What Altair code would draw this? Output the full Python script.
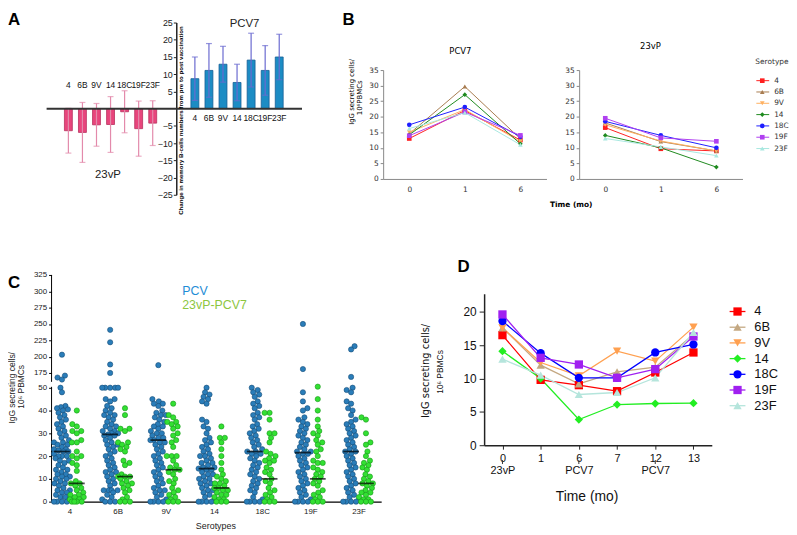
import math
import json
import altair as alt
import pandas as pd

FONT = "Liberation Sans"
BFONT = "DejaVu Sans"

serotypes = ["4", "6B", "9V", "14", "18C", "19F", "23F"]

# ---------------- Panel A : change in memory B cells ----------------
a_23vp_mean = [-6.4, -6.9, -4.7, -4.6, -0.9, -5.8, -4.2]
a_23vp_err = [6.5, 8.7, 6.2, 8.1, 6.1, 8.0, 6.5]
a_pcv7_mean = [8.7, 11.1, 12.9, 7.6, 14.1, 11.1, 15.0]
a_pcv7_err = [6.3, 7.8, 5.2, 5.3, 7.8, 7.2, 6.6]

# ---------------- Panel B : IgG secreting cells ----------------
b_times = ["0", "1", "6"]
b_pcv7 = {
    "4": [13.0, 22.0, 12.5],
    "6B": [14.5, 29.7, 12.9],
    "9V": [15.0, 22.3, 12.0],
    "14": [14.2, 27.1, 11.3],
    "18C": [17.4, 23.1, 13.6],
    "19F": [13.9, 21.5, 14.0],
    "23F": [16.2, 21.3, 11.0],
}
b_23vp = {
    "4": [16.5, 9.7, 9.0],
    "6B": [18.0, 12.0, 9.0],
    "9V": [17.4, 12.2, 9.0],
    "14": [14.0, 10.0, 3.8],
    "18C": [18.5, 14.0, 10.0],
    "19F": [19.5, 13.2, 12.1],
    "23F": [13.0, 10.3, 7.5],
}
b_colors = ["#FF2020", "#A87C50", "#FFB060", "#1E8A1E", "#1E1EFF", "#B040F0", "#A8E8E0"]

# ---------------- Panel C : individual responses ----------------
c_pcv = {
    "4": [203, 171, 168, 165, 50, 48, 42, 41.5, 41, 40.5, 40, 39, 38, 37, 36, 35, 34, 33, 32, 31, 30, 29,
          28, 27, 26, 26, 25, 25, 24, 23, 23, 22.5, 22, 22, 21, 20, 20, 20, 19, 18, 18, 17, 16, 15, 14, 14,
          13, 12, 12, 11, 11, 10, 10, 9, 8, 8, 7, 6, 5, 5, 4, 4, 3, 2, 2, 1, 0, 0, 0, 0],
    "6B": [241, 222, 188, 175, 50, 50, 50, 50, 50, 45, 45, 44, 42, 41, 40, 39, 38, 38, 37, 36, 35, 34, 33,
           33, 32, 31, 31, 30, 30, 29.5, 29, 29, 28, 27, 26, 25, 25, 24, 23, 22, 21, 20, 19, 18, 17, 16, 15,
           14, 13, 13, 12, 11, 10, 9, 8, 7, 5, 5, 5, 5, 4, 3, 2, 1, 0, 0, 0],
    "9V": [187, 45, 44, 43, 43, 42, 40, 39, 38, 38, 37, 36, 35, 34, 33, 33, 32, 31, 30, 30, 29, 28, 28, 27,
           27, 26, 26, 25, 24, 23, 22, 21, 20, 19, 18, 17, 16, 15, 14, 13, 12, 11, 10, 9, 8, 7, 6, 5, 5, 4,
           3, 2, 1, 0, 0, 0, 0],
    "14": [50, 48, 47, 46, 45, 44, 43, 36, 35, 33, 32, 30, 28, 27, 26, 25, 24, 23, 22, 21, 20, 20, 19, 18,
           17, 17, 16, 15, 15, 14.5, 14, 14, 13, 12, 12, 11, 10, 10, 9, 8, 8, 7, 6, 5, 5, 4, 3, 2, 1, 0, 0,
           0, 0],
    "18C": [50, 49, 48, 47, 46, 44, 43, 42, 41, 39, 38, 37, 36, 34, 33, 32, 31, 30, 29, 28, 27, 26, 25, 24,
            23, 22, 22, 21, 21, 20, 19, 18, 17, 16, 15, 14, 13, 12, 11, 10, 9, 8, 7, 6, 5, 4, 2, 1, 0, 0, 0,
            0],
    "19F": [250, 181, 48, 44, 41, 40, 37, 36, 35, 34, 33, 32, 31, 30, 29, 28, 27, 26, 25, 24, 23, 22, 22,
            21, 21, 20, 19, 18, 17, 16, 15, 14, 13, 12, 11, 10, 9, 8, 7, 6, 5, 4, 3, 2, 1, 0, 0, 0, 0],
    "23F": [216, 211, 169, 50, 49, 48, 44, 43, 41, 40, 38, 36, 35, 34, 33, 32, 31, 30, 29, 28, 27, 26, 25,
            24, 23, 22, 22, 21, 20, 19, 18, 17, 16, 15, 14, 13, 12, 11, 10, 9, 8, 7, 6, 5, 4, 3, 2, 1, 0, 0,
            0, 0],
}
c_23vp_pcv7 = {
    "4": [40, 34, 33, 31, 31, 30, 27, 26, 26, 22, 20, 20, 19, 17, 16, 13.5, 9, 8, 8, 7, 6, 5, 4, 3, 3, 2,
          2, 1, 1, 0, 0, 0, 0],
    "6B": [41, 38, 32, 32, 31, 26, 26, 25, 24, 23, 22, 18, 17, 16, 12, 11, 11, 11, 10, 9, 8, 8, 7, 6, 5,
           4, 2, 1, 0, 0, 0],
    "9V": [43, 38, 37, 35, 35, 34, 33, 32, 30, 29, 27, 26, 24, 20, 20, 20, 18, 16, 15, 14, 14, 13, 12, 10,
           9, 8, 6, 5, 4, 3, 2, 1, 0, 0, 0],
    "14": [33, 28, 28, 26, 23, 20, 17, 14, 12, 11, 10, 9, 8, 8, 7, 6, 6, 5, 5, 4, 3, 3, 2, 1, 1, 0, 0, 0],
    "18C": [39, 39, 36, 30, 30, 28, 26, 22, 21, 20, 19, 18, 18, 17, 15, 14, 13, 12, 10, 9, 8, 6, 5, 4, 3,
            2, 1, 0, 0, 0],
    "19F": [54, 45, 40, 36, 33, 31, 30, 29, 27, 26, 25, 23, 22, 20, 18, 17, 17, 15, 14, 13, 12, 11, 10, 9,
            8, 7, 5, 4, 3, 2, 1, 0, 0, 0],
    "23F": [37, 36, 30, 26, 25, 22, 20, 18, 17, 16, 15, 14, 12, 11, 10, 9, 8, 8, 7, 6, 5, 4, 4, 3, 2, 1, 1,
            0, 0, 0],
}
c_median_pcv = [22, 29.5, 27, 14.5, 22, 21.5, 22]
c_median_23vp_pcv7 = [8, 11, 14, 6, 10, 10, 8]

# ---------------- Panel D : time course ----------------
d_times = ["0", "1", "6", "7", "12", "13"]
d_values = {
    "4": [16.5, 9.8, 9.0, 8.1, 10.9, 13.9],
    "6B": [17.6, 12.0, 9.2, 11.0, 11.7, 16.6],
    "9V": [17.6, 12.4, 10.4, 14.1, 12.6, 17.7],
    "14": [14.1, 10.0, 3.85, 6.1, 6.25, 6.3],
    "18C": [18.6, 13.8, 10.1, 10.1, 13.9, 15.1],
    "19F": [19.6, 13.1, 12.1, 10.1, 11.4, 16.3],
    "23F": [12.9, 10.5, 7.6, 7.9, 10.1, 16.9],
}
d_colors = ["#FF0000", "#C4A882", "#FFA050", "#22EE22", "#0000FF", "#A020F0", "#B5E5DC"]
d_shapes = ["square", "triangle-up", "triangle-down", "diamond", "circle", "square", "triangle-up"]


def note(text, x, y, size, color="black", weight="normal", font=FONT, align="center",
         baseline="middle", angle=0):
    return alt.Chart(pd.DataFrame({"t": [text]})).mark_text(
        fontSize=size, color=color, fontWeight=weight, font=font, align=align,
        baseline=baseline, angle=angle
    ).encode(text="t:N", x=alt.value(x), y=alt.value(y))


# ======================= Panel A =======================
a_rows = []
for i, s in enumerate(serotypes):
    m, e = a_23vp_mean[i], a_23vp_err[i]
    a_rows.append({"slot": "n" + s, "label": s, "grp": "23vP", "mean": m, "lo": m - e, "hi": m + e})
for i, s in enumerate(serotypes):
    m, e = a_pcv7_mean[i], a_pcv7_err[i]
    a_rows.append({"slot": "p" + s, "label": s, "grp": "PCV7", "mean": m, "lo": m - e, "hi": m + e})
a_df = pd.DataFrame(a_rows)
a_domain = ["n" + s for s in serotypes] + ["gap1", "gap2"] + ["p" + s for s in serotypes]

xA = alt.X("slot:N", scale=alt.Scale(type="point", domain=a_domain, range=[17, 230], padding=0), axis=None)
sA = alt.Scale(domain=[-25, 25], nice=False)
axA = alt.Axis(values=[-25, -20, -15, -10, -5, 5, 10, 15, 20, 25], offset=-126, title=None, grid=False,
               domainColor="#222", domainWidth=1.5, tickColor="#222", tickSize=3, labelFont=FONT,
               labelFontSize=9, labelColor="#222", labelPadding=1)


def yA(field):
    return alt.Y(field, scale=sA, axis=axA)


a_layers = []
for grp, fill, stroke, errc in [("23vP", "#E8457C", "#B8305E", "#E38AAB"),
                                ("PCV7", "#1C8CC4", "#155E96", "#6A6AD0")]:
    base = alt.Chart(a_df).transform_filter(alt.datum.grp == grp)
    a_layers.append(base.mark_bar(width=8, color=fill, stroke=stroke, strokeWidth=0.8)
                    .encode(x=xA, y=yA("mean:Q")))
    a_layers.append(base.mark_rule(color=errc, strokeWidth=1.2)
                    .encode(x=xA, y=yA("lo:Q"), y2="hi:Q"))
    a_layers.append(base.mark_tick(color=errc, orient="horizontal", size=6, thickness=1.2)
                    .encode(x=xA, y=yA("lo:Q")))
    a_layers.append(base.mark_tick(color=errc, orient="horizontal", size=6, thickness=1.2)
                    .encode(x=xA, y=yA("hi:Q")))

zero_line = alt.Chart(pd.DataFrame({"z": [0]})).mark_rule(color="#333", strokeWidth=2).encode(
    y=yA("z:Q"), x=alt.value(-5), x2=alt.value(253))
lab_neg = alt.Chart(a_df).transform_filter(alt.datum.grp == "23vP").mark_text(
    font=FONT, fontSize=8.5, color="#111").encode(x=xA, y=alt.value(63), text="label:N")
lab_pos = alt.Chart(a_df).transform_filter(alt.datum.grp == "PCV7").mark_text(
    font=FONT, fontSize=8.5, color="#111").encode(x=xA, y=alt.value(96), text="label:N")

panelA = alt.layer(
    *a_layers, zero_line, lab_neg, lab_pos,
    note("23vP", 57, 154, 11.5, color="#222"),
    note("PCV7", 195, 2, 11.5, color="#222"),
    note("Change in memory B-cells numbers from pre to post vaccination", 131, 99, 6.2,
         weight="bold", angle=270),
    note("A", -44, -11, 17, weight="bold", align="left", baseline="top"),
).properties(width=335, height=174)

# ======================= Panel B =======================
def b_long(d):
    rows = []
    for s in serotypes:
        for t, v in zip(b_times, d[s]):
            rows.append({"time": t, "serotype": s, "value": v})
    return pd.DataFrame(rows)


xB = alt.X("time:N", scale=alt.Scale(type="point", domain=b_times, range=[0, 165], padding=0.47),
           axis=alt.Axis(title=None, labelAngle=0, ticks=False, domainColor="#888", labelFont=BFONT,
                         labelFontSize=7.5, labelColor="#333", labelPadding=7, grid=False))
yB = alt.Y("value:Q", scale=alt.Scale(domain=[0, 35], range=[158, 48], nice=False),
           axis=alt.Axis(values=list(range(0, 36, 5)), title=None, grid=False, domainColor="#888",
                         tickColor="#888", tickSize=3, labelFont=BFONT, labelFontSize=7.5,
                         labelColor="#333", labelPadding=2))
colB = alt.Color("serotype:N", scale=alt.Scale(domain=serotypes, range=b_colors), legend=None)
shpB = alt.Shape("serotype:N", scale=alt.Scale(domain=serotypes, range=d_shapes), legend=None)


def make_b(d, extra, width):
    base = alt.Chart(b_long(d)).encode(x=xB, y=yB, color=colB)
    lines = base.mark_line(strokeWidth=1)
    pts = base.mark_point(filled=True, size=22, opacity=1).encode(shape=shpB)
    return alt.layer(lines, pts, *extra).properties(width=width, height=158)


panelB1 = make_b(b_pcv7, [
    note("PCV7", 78, 29, 8.5, font=BFONT),
    note("IgG secreting cells/", -31, 70, 7, font=BFONT, angle=270),
    note("10⁶PBMCs", -23, 76, 7, font=BFONT, angle=270),
    note("B", -41, -11, 17, weight="bold", align="left", baseline="top"),
], 198)
panelB2 = make_b(b_23vp, [
    note("23vP", 72, 24, 8.5, font=BFONT),
    note("Time (mo)", -8, 184, 7.5, font=BFONT, weight="bold"),
], 175)

bl_df = pd.DataFrame({"serotype": serotypes})
yBL = alt.Y("serotype:N", scale=alt.Scale(type="point", domain=serotypes, range=[53, 133]), axis=None)
bl_base = alt.Chart(bl_df).encode(y=yBL)
legendB = alt.layer(
    bl_base.mark_rule(strokeWidth=1).encode(x=alt.value(4), x2=alt.value(17), color=colB),
    bl_base.mark_point(filled=True, size=22, opacity=1).encode(x=alt.value(10), color=colB, shape=shpB),
    bl_base.mark_text(align="left", font=BFONT, fontSize=7.5, color="#333").encode(
        x=alt.value(22), text="serotype:N"),
    note("Serotype", 3, 40, 7.5, font=BFONT, color="#333", align="left"),
).properties(width=30, height=158)

# ======================= Panel C =======================
C_STEP = 48.67
LOW_PX = 116 / 50.4
UP_PX = 108 / 163.6


def swarm(ypx, d=4.8, cap=8.0):
    idx = sorted(range(len(ypx)), key=lambda k: ypx[k])
    offs = [0.0] * len(ypx)
    placed = []
    cands = [0.0]
    j = 1
    while j * 0.5 <= cap:
        cands += [j * 0.5, -j * 0.5]
        j += 1
    for n, k in enumerate(idx):
        y = ypx[k]
        near = [(px, py) for px, py in placed if abs(py - y) < d]
        sign = 1 if n % 2 == 0 else -1
        chosen, bestc, bests = None, 0.0, -1.0
        for c in cands:
            c2 = c * sign
            md = min((math.hypot(c2 - px, y - py) for px, py in near), default=99.0)
            if md >= d:
                chosen = c2
                break
            if md > bests:
                bests, bestc = md, c2
        if chosen is None:
            chosen = bestc
        placed.append((chosen, y))
        offs[k] = chosen
    return offs


c_rows = []
for series, src, side, cap in [("PCV", c_pcv, -1, 8.0), ("23vP-PCV7", c_23vp_pcv7, 1, 7.0)]:
    for i, s in enumerate(serotypes):
        vals = src[s]
        low = [v for v in vals if v < 100]
        up = [v for v in vals if v >= 100]
        for group, pxper, base_v in [(low, LOW_PX, 0.0), (up, UP_PX, 161.4)]:
            if not group:
                continue
            offs = swarm([(v - base_v) * pxper for v in group], cap=cap)
            for v, o in zip(group, offs):
                c_rows.append({"serotype": s, "series": series, "value": v,
                               "xpos": i + side * 0.154 + o / C_STEP})
c_df = pd.DataFrame(c_rows)

med_rows = []
for i, s in enumerate(serotypes):
    med_rows.append({"serotype": s, "series": "PCV", "median": c_median_pcv[i], "xpos": i - 0.154})
    med_rows.append({"serotype": s, "series": "23vP-PCV7", "median": c_median_23vp_pcv7[i],
                     "xpos": i + 0.154})
med_df = pd.DataFrame(med_rows)

sCx = alt.Scale(domain=[-0.37, 6.47], range=[0, 333], nice=False, zero=False)
xC = alt.X("xpos:Q", scale=sCx, axis=alt.Axis(
    values=list(range(7)), labelExpr=json.dumps(serotypes) + "[datum.value]", ticks=False, title=None,
    grid=False, domainColor="black", domainWidth=1.5, labelFont=FONT, labelFontSize=8,
    labelColor="#222", labelPadding=6))
# broken axis: piecewise linear scale (0-50 lower block, 161-325 upper block)
sCy = alt.Scale(domain=[0, 50.4, 161.4, 325], range=[229, 113, 108, 0], nice=False, zero=False)
axCy = alt.Axis(values=[0, 10, 20, 30, 40, 50, 175, 200, 225, 250, 275, 300, 325], title=None, grid=False,
                domain=False, tickColor="black", tickSize=3, labelFont=FONT, labelFontSize=8,
                labelColor="#222", labelPadding=2)


def yC(field):
    return alt.Y(field, scale=sCy, axis=axCy)


C_STYLE = {"PCV": ("#2A7DB9", "#174D78"), "23vP-PCV7": ("#33E033", "#17961A")}
c_layers = []
for series in ["PCV", "23vP-PCV7"]:
    fill, stroke = C_STYLE[series]
    c_layers.append(
        alt.Chart(c_df).transform_filter(alt.datum.series == series).mark_point(
            filled=True, shape="circle", size=28, fill=fill, stroke=stroke, strokeWidth=0.6, opacity=1
        ).encode(x=xC, y=yC("value:Q"))
    )
med_layer = alt.Chart(med_df).mark_tick(orient="horizontal", size=16, thickness=1.8, color="black").encode(
    x=xC, y=yC("median:Q"))
c_axis_lines = [
    alt.Chart(pd.DataFrame({"t": [0]})).mark_rule(color="black", strokeWidth=1).encode(
        x=alt.value(0), y=alt.value(0), y2=alt.value(108)),
    alt.Chart(pd.DataFrame({"t": [0]})).mark_rule(color="black", strokeWidth=1).encode(
        x=alt.value(0), y=alt.value(113), y2=alt.value(229)),
]

panelC = alt.layer(
    *c_axis_lines, *c_layers, med_layer,
    note("PCV", 132, 16, 12.5, color="#1F8DD6", align="left"),
    note("23vP-PCV7", 132, 30, 12.5, color="#8DC63F", align="left"),
    note("C", -44, 0, 17, weight="bold", align="left", baseline="top"),
    note("Serotypes", 166, 254, 9, color="#222"),
    note("IgG secreting cells/", -40, 114, 8.5, color="#222", angle=270),
    note("10⁶ PBMCs", -31, 113, 8.5, color="#222", angle=270),
).properties(width=335, height=229)

# ======================= Panel D =======================
DX = 102  # D plot starts 102 px into its grid column
d_rows = []
for s in serotypes:
    for t, v in zip(d_times, d_values[s]):
        d_rows.append({"time": t, "serotype": s, "value": v})
d_df = pd.DataFrame(d_rows)

d_label_expr = ("datum.value == '0' ? ['0', '23vP'] : (datum.value == '6' ? ['6', 'PCV7'] : "
                "(datum.value == '12' ? ['12', 'PCV7'] : [datum.label, '']))")
xD = alt.X("time:N", scale=alt.Scale(type="point", domain=d_times, range=[DX, DX + 230], padding=0.48),
           axis=alt.Axis(title=None, labelAngle=0, labelExpr=d_label_expr, ticks=True, tickSize=4,
                         tickColor="#222", domainColor="#222", domainWidth=1.5, labelFont=FONT,
                         labelFontSize=11, labelLineHeight=13, labelColor="#111", labelPadding=3,
                         grid=False))
yD = alt.Y("value:Q", scale=alt.Scale(domain=[0, 22.7], range=[172, 19], nice=False),
           axis=alt.Axis(values=[0, 5, 10, 15, 20], title=None, grid=False, domainColor="#222",
                         domainWidth=1.5, tickColor="#222", tickSize=5, labelFont=FONT, labelFontSize=12,
                         labelColor="#111", labelPadding=3, offset=-DX))
colD = alt.Color("serotype:N", scale=alt.Scale(domain=serotypes, range=d_colors), legend=None)
shpD = alt.Shape("serotype:N", scale=alt.Scale(domain=serotypes, range=d_shapes), legend=None)

d_base = alt.Chart(d_df).encode(x=xD, y=yD, color=colD)
d_marks = alt.Chart(pd.DataFrame({"time": ["0", "6", "12"]})).mark_rule(color="#333", strokeWidth=1).encode(
    x=xD, y=alt.value(187), y2=alt.value(191))

panelD = alt.layer(
    d_base.mark_line(strokeWidth=1.3),
    d_base.mark_point(filled=True, size=70, opacity=1).encode(shape=shpD),
    d_marks,
    note("Time (mo)", DX + 104, 224, 14, color="#111"),
    note("IgG secreting cells/", DX - 59, 97, 10, font=BFONT, color="#111", angle=270),
    note("10⁶ PBMCs", DX - 45, 98, 8.5, color="#111", angle=270),
    note("D", DX - 27, -16, 17, weight="bold", align="left", baseline="top"),
).properties(width=198, height=172)

LX = 152  # D legend starts 152 px into its grid column
dl_df = pd.DataFrame({"serotype": serotypes})
yDL = alt.Y("serotype:N", scale=alt.Scale(type="point", domain=serotypes, range=[29, 140]), axis=None)
dl_base = alt.Chart(dl_df).encode(y=yDL)
legendD = alt.layer(
    dl_base.mark_rule(strokeWidth=1.3).encode(x=alt.value(LX), x2=alt.value(LX + 16), color=colD),
    dl_base.mark_point(filled=True, size=70, opacity=1).encode(x=alt.value(LX + 8), color=colD, shape=shpD),
    dl_base.mark_text(align="left", font=FONT, fontSize=13, color="#111").encode(
        x=alt.value(LX + 25), text="serotype:N"),
).properties(width=175, height=172)

# ======================= Layout (single flush grid) =======================
chart = alt.concat(
    panelA, panelB1, panelB2, legendB,
    panelC, panelD, legendD,
    columns=4, spacing={"row": 81, "column": 0}, bounds="flush",
).resolve_scale(
    color="independent", shape="independent"
).properties(padding=0, background="white").configure_view(stroke=None)

chart.save("out.html", embed_options={"renderer": "svg", "actions": False})
